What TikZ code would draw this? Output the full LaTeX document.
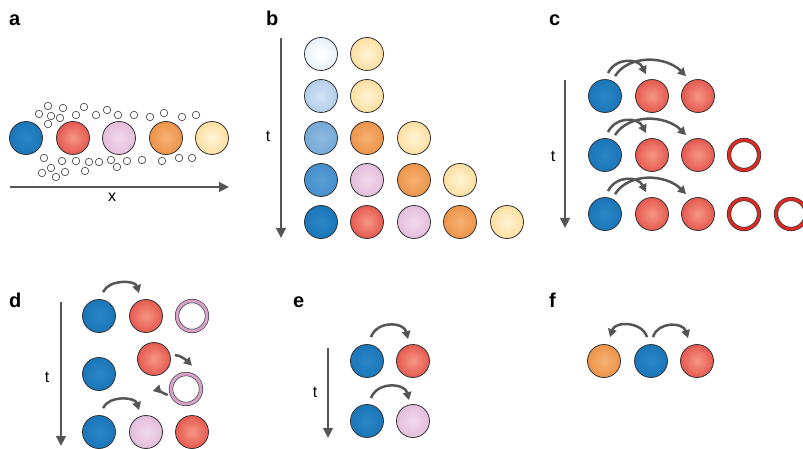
\documentclass[tikz,border=0pt]{standalone}
\usepackage{fontspec}
\setmainfont{Liberation Sans}
\usetikzlibrary{arrows.meta}

% ball colours: inner highlight / outer rim
\definecolor{blueIn}{HTML}{2A84C4}   \definecolor{blueOut}{HTML}{0969AE}
\definecolor{redIn}{HTML}{F3907E}    \definecolor{redOut}{HTML}{D92422}
\definecolor{pinkIn}{HTML}{F0D6EA}   \definecolor{pinkOut}{HTML}{D8A6CC}
\definecolor{orIn}{HTML}{F5AE70}     \definecolor{orOut}{HTML}{E57A22}
\definecolor{loIn}{HTML}{FFF2D2}     \definecolor{loOut}{HTML}{FCCB6E}
\definecolor{bOneIn}{HTML}{FFFFFF}   \definecolor{bOneOut}{HTML}{CFE0F3}
\definecolor{bTwoIn}{HTML}{CFE1F4}   \definecolor{bTwoOut}{HTML}{99BBE2}
\definecolor{bThrIn}{HTML}{8AB8E0}   \definecolor{bThrOut}{HTML}{639BD1}
\definecolor{bFouIn}{HTML}{579CD3}   \definecolor{bFouOut}{HTML}{3283C6}
\definecolor{ringRed}{HTML}{DA2A24}
\definecolor{ringPink}{HTML}{D6A2CA}
\definecolor{arrowgray}{HTML}{555555}

\colorlet{ballin}{white}
\colorlet{ballout}{white}
\pgfdeclareradialshading[ballin,ballout]{ballshade}{\pgfpoint{0bp}{0bp}}%
  {color(0bp)=(ballin); color(3bp)=(ballin); color(46bp)=(ballout); color(50bp)=(ballout)}

\tikzset{
  ball/.style={circle, minimum size=33pt, inner sep=0pt, draw=black!80, line width=0.8pt},
  tint/.style 2 args={ball, /utils/exec={\colorlet{ballin}{#1}\colorlet{ballout}{#2}},
    shade, shading=ballshade},
  blueball/.style={tint={blueIn}{blueOut}},
  redball/.style={tint={redIn}{redOut}},
  pinkball/.style={tint={pinkIn}{pinkOut}},
  orball/.style={tint={orIn}{orOut}},
  loball/.style={tint={loIn}{loOut}},
  bone/.style={tint={bOneIn}{bOneOut}},
  btwo/.style={tint={bTwoIn}{bTwoOut}},
  bthree/.style={tint={bThrIn}{bThrOut}},
  bfour/.style={tint={bFouIn}{bFouOut}},
  ring/.style={circle, minimum size=30pt, inner sep=0pt, draw=black!80, line width=0.6pt,
    double=#1, double distance=3pt, fill=white},
  bead/.style={circle, minimum size=7.5pt, inner sep=0pt, draw=black!70, line width=0.7pt, fill=white},
  hop/.style={draw=arrowgray, line width=2.5pt, -{Triangle[length=8pt,width=8.5pt]}},
  axis/.style={draw=arrowgray, line width=2.6pt, -{Triangle[length=10pt,width=9.5pt]}},
  panel/.style={font=\bfseries\fontsize{20}{20}\selectfont, anchor=base west, inner sep=0pt},
  axlabel/.style={font=\fontsize{16}{16}\selectfont, inner sep=0pt},
}

\begin{document}
\begin{tikzpicture}[x=1pt, y=-1pt]
\useasboundingbox (0,0) rectangle (803,449);

% ---------------- a ----------------
\node[panel] (la) at (9,26) {a};
\node[blueball] (a1) at (26,138) {};
\node[redball]  (a2) at (73,138) {};
\node[pinkball] (a3) at (119,138) {};
\node[orball]   (a4) at (166,138) {};
\node[loball]   (a5) at (212,138) {};
\foreach \p [count=\i] in {(48,106),(63,108),(84,107),(39,114),(51,116),(60,118),(76,115),
  (96,115),(107,110),(118,115),(134,115),(150,117),(164,113),(182,117),(196,115),(48,124),
  (44,158),(62,161),(76,161),(89,162),(99,162),(111,160),(127,161),(142,160),(162,161),
  (179,158),(192,158),(51,168),(42,173),(65,172),(85,171),(117,167),(56,177)}
  \node[bead] (bead\i) at \p {};
\coordinate (ax0) at (10,187);
\coordinate (ax1) at (229,187);
\draw[axis] (ax0) -- (ax1);
\node[axlabel] (lx) at (112,197) {x};

% ---------------- b ----------------
\node[panel] (lb) at (266,26) {b};
\coordinate (bt0) at (281,38);
\coordinate (bt1) at (281,238);
\draw[axis] (bt0) -- (bt1);
\node[axlabel] (ltb) at (268,136) {t};
\node[bone]     (b11) at (321,54) {};
\node[loball]   (b12) at (367,54) {};
\node[btwo]     (b21) at (321,96) {};
\node[loball]   (b22) at (367,96) {};
\node[bthree]   (b31) at (321,138) {};
\node[orball]   (b32) at (367,138) {};
\node[loball]   (b33) at (414,138) {};
\node[bfour]    (b41) at (321,180) {};
\node[pinkball] (b42) at (367,180) {};
\node[orball]   (b43) at (414,180) {};
\node[loball]   (b44) at (460,180) {};
\node[blueball] (b51) at (321,222) {};
\node[redball]  (b52) at (367,222) {};
\node[pinkball] (b53) at (414,222) {};
\node[orball]   (b54) at (460,222) {};
\node[loball]   (b55) at (507,222) {};

% ---------------- c ----------------
\node[panel] (lc) at (549,26) {c};
\coordinate (ct0) at (565,80);
\coordinate (ct1) at (565,228);
\draw[axis] (ct0) -- (ct1);
\node[axlabel] (ltc) at (553,156) {t};
\foreach \r/\y in {1/96,2/155,3/214}{
  \node[blueball] (c\r1) at (605,\y) {};
  \node[redball]  (c\r2) at (652,\y) {};
  \node[redball]  (c\r3) at (698,\y) {};
  \draw[hop] ([shift={(3,-6)}]c\r1.north) .. controls +(8,-16) and +(-8,-16) .. ([shift={(-6,-5)}]c\r2.north);
  \draw[hop] ([shift={(10,-3)}]c\r1.north) .. controls +(14,-22) and +(-20,-20) .. ([shift={(-12,-3)}]c\r3.north);
}
\node[ring=ringRed] (c24) at (744,155) {};
\node[ring=ringRed] (c34) at (744,214) {};
\node[ring=ringRed] (c35) at (791,214) {};

% ---------------- d ----------------
\node[panel] (ld) at (9,307) {d};
\coordinate (dt0) at (61,302);
\coordinate (dt1) at (61,446);
\draw[axis] (dt0) -- (dt1);
\node[axlabel] (ltd) at (47,377) {t};
\node[blueball]      (d11) at (99,316) {};
\node[redball]       (d12) at (146,316) {};
\node[ring=ringPink] (d13) at (192,316) {};
\node[blueball]      (d21) at (99,374) {};
\node[redball]       (d22) at (154,359) {};
\node[ring=ringPink] (d23) at (186,389) {};
\node[blueball]      (d31) at (99,432) {};
\node[pinkball]      (d32) at (146,432) {};
\node[redball]       (d33) at (192,432) {};
\draw[hop] ([shift={(4,-7)}]d11.north) .. controls +(6,-13) and +(-4,-13) .. ([shift={(-7,-6)}]d12.north);
\draw[hop] ([shift={(4,-7)}]d31.north) .. controls +(6,-13) and +(-4,-13) .. ([shift={(-7,-5)}]d32.north);
\draw[hop] ([shift={(4,-4)}]d22.east) .. controls +(6,0) and +(-4,-4) .. ([shift={(6,-8)}]d23.north);
\draw[hop] ([shift={(-3,6)}]d23.west) .. controls +(-5,-2) and +(4,-1) .. ([shift={(-18,2)}]d23.west);

% ---------------- e ----------------
\node[panel] (le) at (293,307) {e};
\coordinate (et0) at (328,348);
\coordinate (et1) at (328,438);
\draw[axis] (et0) -- (et1);
\node[axlabel] (lte) at (315,392) {t};
\node[blueball] (e11) at (367,361) {};
\node[redball]  (e12) at (413,361) {};
\node[blueball] (e21) at (367,421) {};
\node[pinkball] (e22) at (413,421) {};
\draw[hop] ([shift={(4,-7)}]e11.north) .. controls +(6,-17) and +(-4,-17) .. ([shift={(-5,-5)}]e12.north);
\draw[hop] ([shift={(4,-6)}]e21.north) .. controls +(6,-17) and +(-4,-17) .. ([shift={(-4,-4)}]e22.north);

% ---------------- f ----------------
\node[panel] (lf) at (549,307) {f};
\node[orball]   (f1) at (604,361) {};
\node[blueball] (f2) at (651,361) {};
\node[redball]  (f3) at (697,361) {};
\draw[hop] ([shift={(-4,-7)}]f2.north) .. controls +(-5,-16) and +(5,-16) .. ([shift={(6,-7)}]f1.north);
\draw[hop] ([shift={(2,-7)}]f2.north) .. controls +(5,-16) and +(-5,-16) .. ([shift={(-9,-6)}]f3.north);
\end{tikzpicture}
\end{document}
